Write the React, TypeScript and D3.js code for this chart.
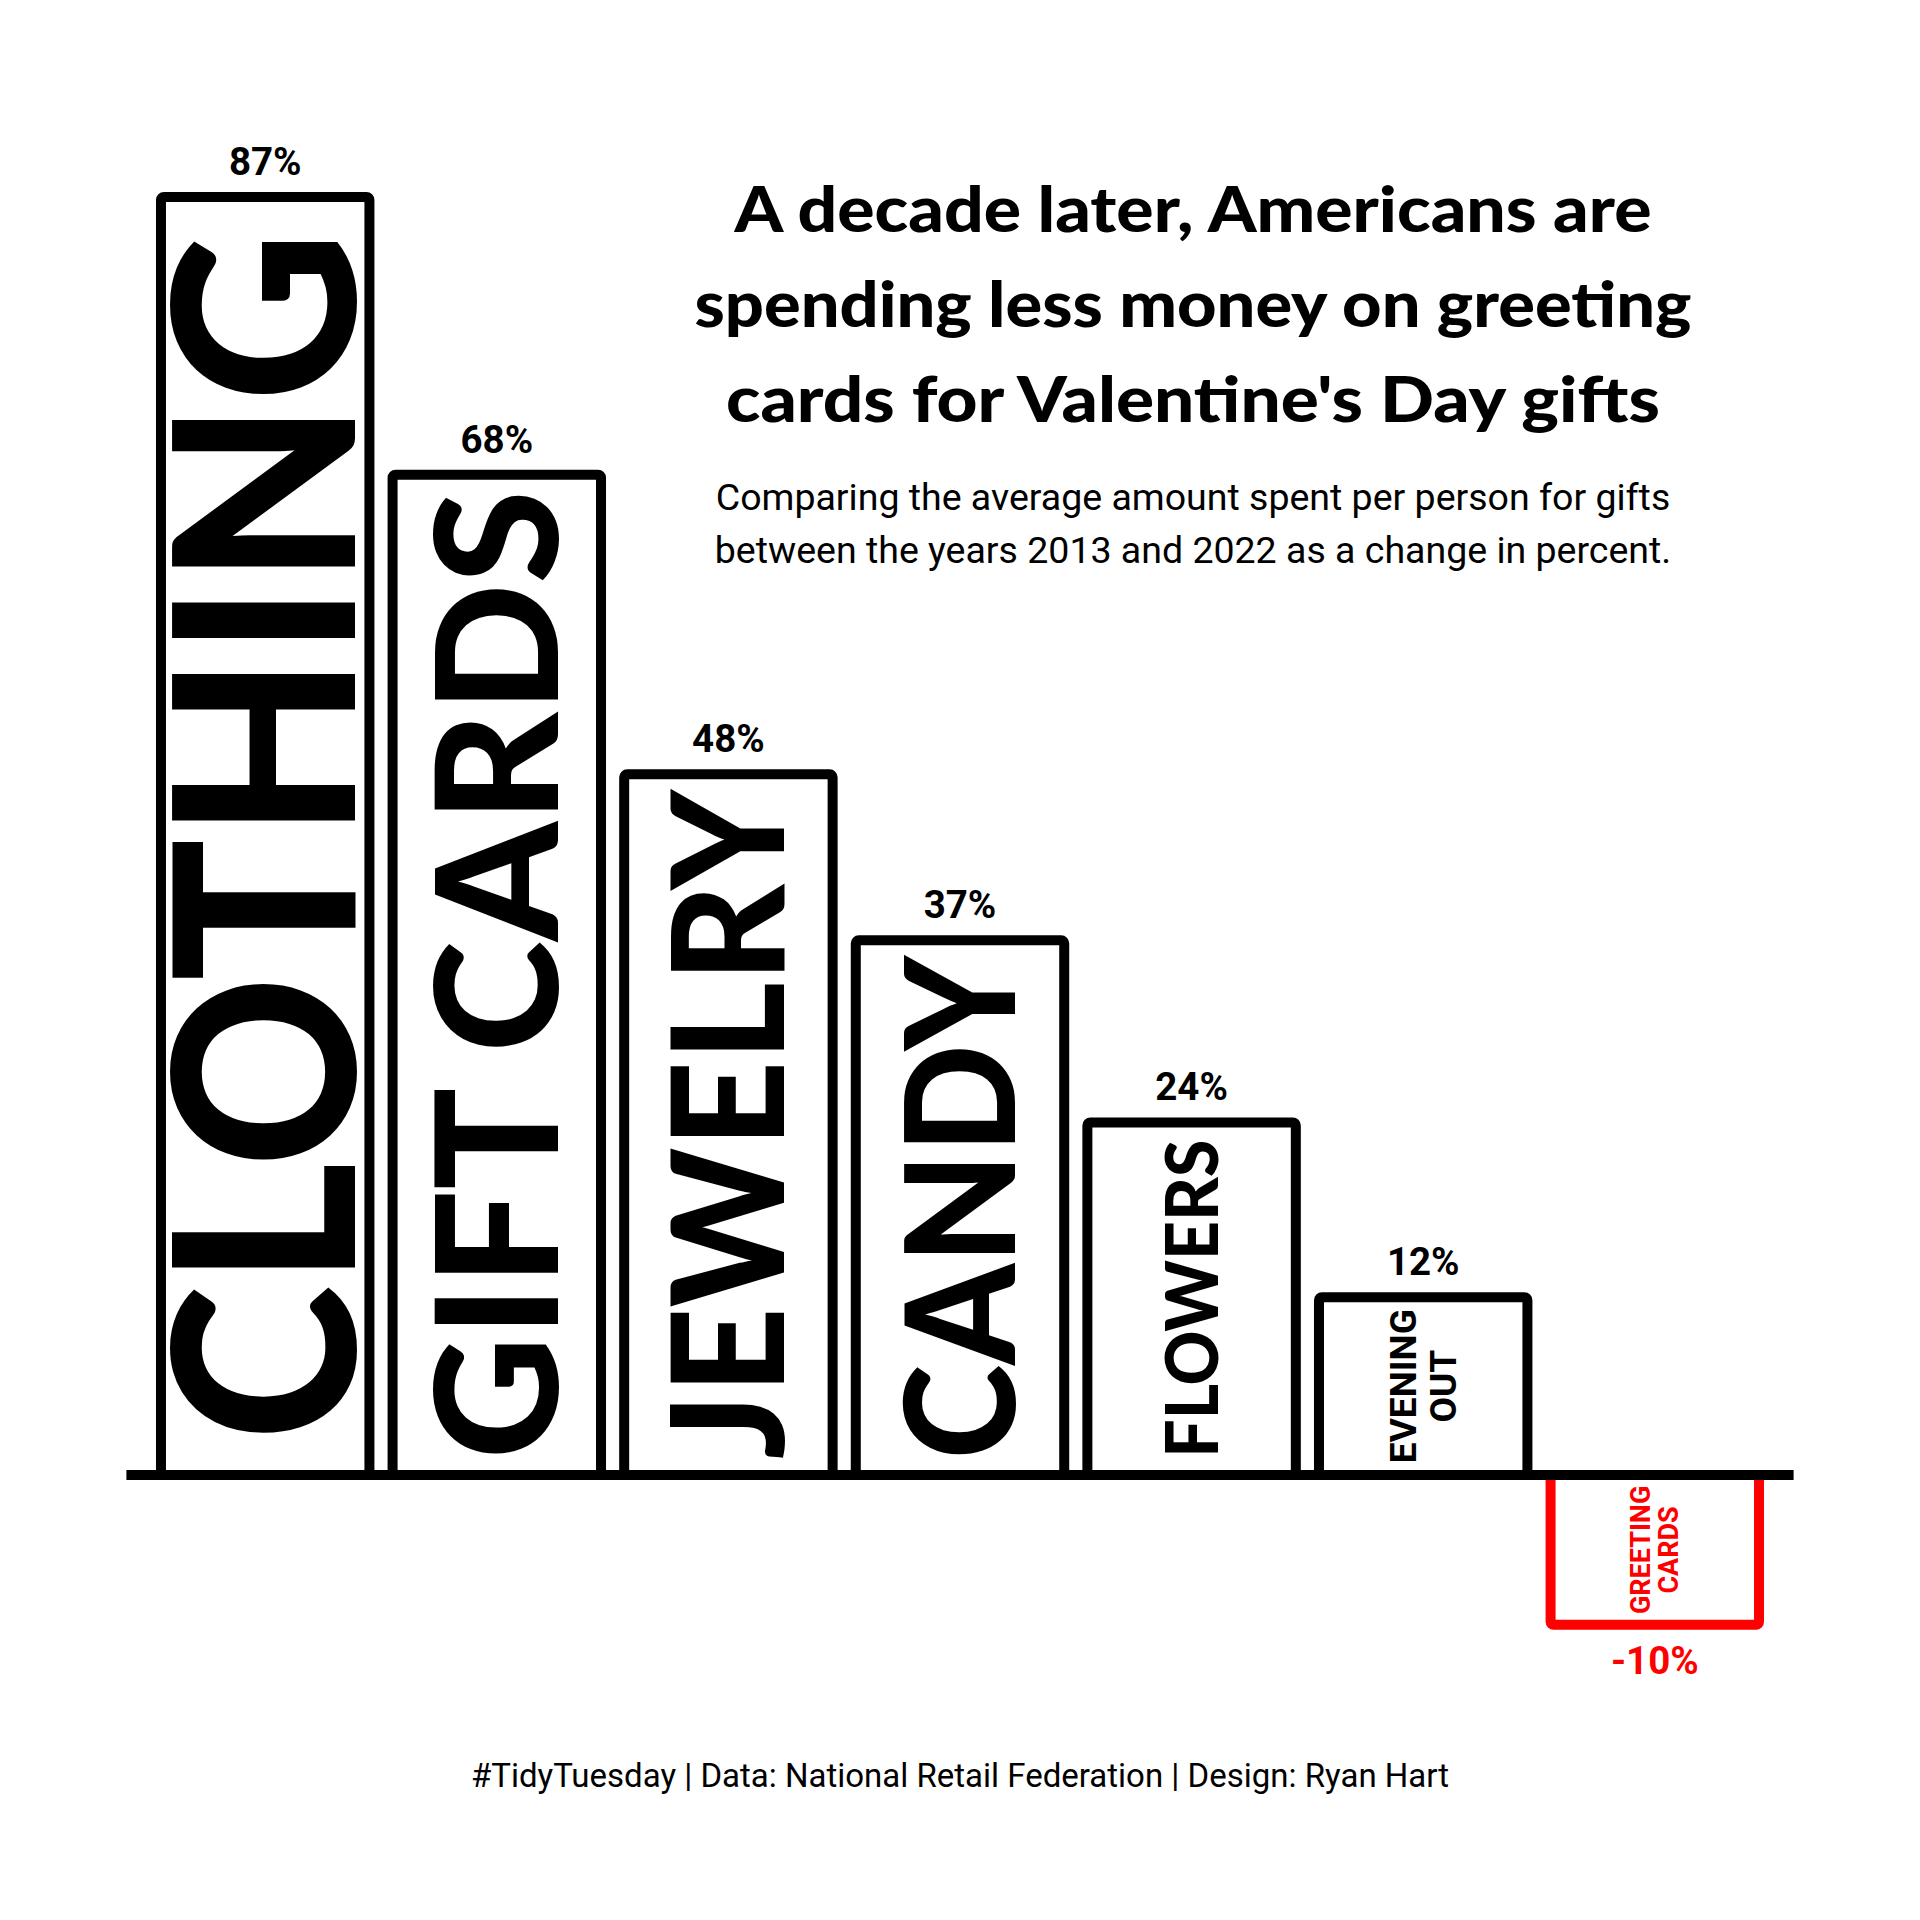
import * as d3 from 'd3';

// Valentine's Day spending: change in avg amount per person, 2013 -> 2022
const categories = ['CLOTHING', 'GIFT CARDS', 'JEWELRY', 'CANDY', 'FLOWERS', 'EVENING OUT', 'GREETING CARDS'];
// bar heights (labels are the rounded values)
const changes = [87, 68.1, 47.7, 36.4, 24, 12.1, -10.2];
const pctLabels = ['87%', '68%', '48%', '37%', '24%', '12%', '-10%'];
const barLabelLines = [['CLOTHING'], ['GIFT CARDS'], ['JEWELRY'], ['CANDY'], ['FLOWERS'], ['EVENING', 'OUT'], ['GREETING', 'CARDS']];

const titleLines = [
  'A decade later, Americans are',
  'spending less money on greeting',
  "cards for Valentine's Day gifts",
];
const subtitleLines = [
  'Comparing the average amount spent per person for gifts',
  'between the years 2013 and 2022 as a change in percent.',
];
const caption = '#TidyTuesday | Data: National Retail Federation | Design: Ryan Hart';

// label fitting (cap height + run length in px) for the big in-bar words
const bigLabelFit: Record<string, { cap: number; len: number }> = {
  'CLOTHING': { cap: 180, len: 1210 },
  'GIFT CARDS': { cap: 122, len: 969 },
  'JEWELRY': { cap: 112, len: 669 },
  'CANDY': { cap: 110, len: 503 },
  'FLOWERS': { cap: 52, len: 318 },
};

const W = 1920;
const H = 1920;
const BIG_FONT = 'Lato, "Noto Sans", sans-serif';
const TEXT_FONT = 'Roboto, "Noto Sans", sans-serif';
const LATO_CAP = 0.7165;
const ROBOTO_CAP = 0.711;

export default function App() {
  const x = d3.scaleBand<string>()
    .domain(categories)
    .range([149.4, 1770.6])
    .paddingInner(0.1)
    .paddingOuter(0.05);

  const y = d3.scaleLinear().domain([0, 87]).range([1475, 197]);
  const bw = x.bandwidth();

  const titleWidths = [917, 997, 934];

  return (
    <svg width={W} height={H} viewBox={`0 0 ${W} ${H}`}
      style={{ position: 'absolute', left: 0, top: 0, background: '#fff' }}>
      <rect x={0} y={0} width={W} height={H} fill="#fff" />

      {/* bars */}
      {categories.map((c, i) => {
        const v = changes[i];
        const neg = v < 0;
        const color = neg ? '#ff0000' : '#000';
        const y0 = y(0);
        const y1 = y(v);
        return (
          <rect key={c}
            x={x(c)!}
            y={Math.min(y0, y1)}
            width={bw}
            height={Math.abs(y1 - y0)}
            rx={3}
            fill="#fff"
            stroke={color}
            strokeWidth={10}
            strokeLinejoin="round" />
        );
      })}

      {/* zero line */}
      <line x1={x.range()[0] - 23} x2={x.range()[1] + 23} y1={y(0)} y2={y(0)}
        stroke="#000" strokeWidth={10} />

      {/* in-bar labels */}
      {categories.map((c, i) => {
        const v = changes[i];
        const cx = x(c)! + bw / 2;
        const cy = (y(0) + y(v)) / 2;
        const fit = bigLabelFit[c];
        if (fit) {
          const fs = fit.cap / LATO_CAP;
          return (
            <text key={c}
              transform={`translate(${cx + fit.cap / 2},${cy}) rotate(-90)`}
              textAnchor="middle"
              fontFamily={BIG_FONT}
              fontWeight={900}
              fontSize={fs}
              textLength={fit.len}
              lengthAdjust="spacingAndGlyphs"
              fill="#000">
              {c}
            </text>
          );
        }
        const lines = barLabelLines[i];
        const neg = v < 0;
        const fs = neg ? 27 : 37;
        const lh = neg ? 28 : 40;
        const cap = fs * ROBOTO_CAP;
        const n = lines.length;
        return (
          <g key={c}>
            {lines.map((ln, j) => {
              const bx = cx + (j - (n - 1) / 2) * lh + cap / 2;
              return (
                <text key={ln}
                  transform={`translate(${bx},${cy}) rotate(-90)`}
                  textAnchor="middle"
                  fontFamily={TEXT_FONT}
                  fontWeight={700}
                  fontSize={fs}
                  fill={neg ? '#ff0000' : '#000'}>
                  {ln}
                </text>
              );
            })}
          </g>
        );
      })}

      {/* percent labels */}
      {categories.map((c, i) => {
        const v = changes[i];
        const neg = v < 0;
        const cx = x(c)! + bw / 2;
        return (
          <text key={c + '-pct'}
            x={cx}
            y={neg ? y(v) + 49 : y(v) - 22}
            textAnchor="middle"
            fontFamily={TEXT_FONT}
            fontWeight={700}
            fontSize={38.5}
            fill={neg ? '#ff0000' : '#000'}>
            {pctLabels[i]}
          </text>
        );
      })}

      {/* title */}
      {titleLines.map((t, i) => (
        <text key={t}
          x={1193}
          y={232 + i * 95}
          textAnchor="middle"
          fontFamily={BIG_FONT}
          fontWeight={900}
          fontSize={62}
          textLength={titleWidths[i]}
          lengthAdjust="spacingAndGlyphs"
          fill="#000">
          {t}
        </text>
      ))}

      {/* subtitle */}
      {subtitleLines.map((t, i) => (
        <text key={t}
          x={1193}
          y={510 + i * 53}
          textAnchor="middle"
          fontFamily={TEXT_FONT}
          fontSize={37.5}
          fill="#000">
          {t}
        </text>
      ))}

      {/* caption */}
      <text x={960} y={1787} textAnchor="middle" fontFamily={TEXT_FONT} fontSize={33} fill="#000">
        {caption}
      </text>
    </svg>
  );
}
